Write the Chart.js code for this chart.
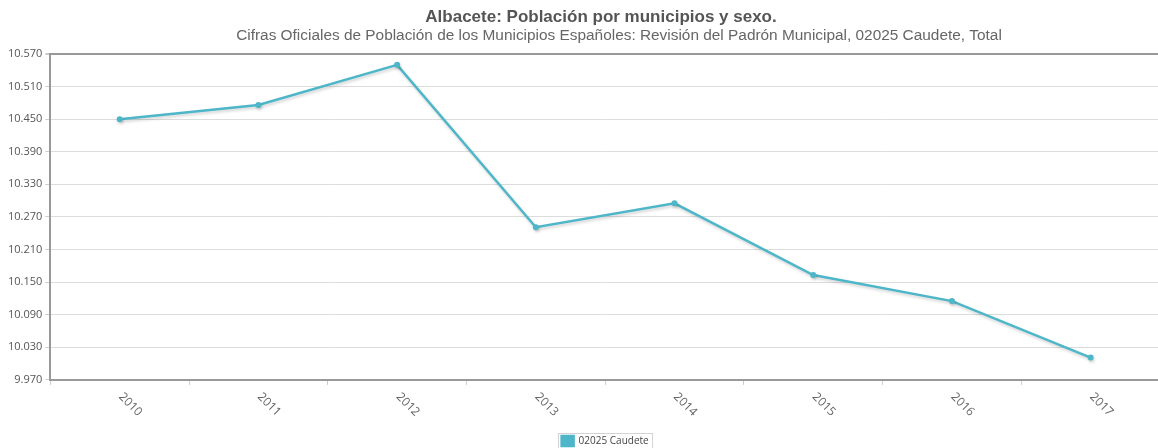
<!DOCTYPE html>
<html>
<head>
<meta charset="utf-8">
<script src="https://cdn.jsdelivr.net/npm/chart.js@4/dist/chart.umd.min.js"></script>
<style>
html,body{margin:0;padding:0;background:#fff;overflow:hidden;}
#wrap{width:1164px;height:448px;}
</style>
</head>
<body>
<div id="wrap"><canvas id="c" width="1164" height="448"></canvas></div>
<script>
const titleText = 'Albacete: Población por municipios y sexo.';
const subtitleText = 'Cifras Oficiales de Población de los Municipios Españoles: Revisión del Padrón Municipal, 02025 Caudete, Total';
const categories = ['2010', '2011', '2012', '2013', '2014', '2015', '2016', '2017'];
const seriesName = '02025 Caudete';
const values = [10450, 10476, 10550, 10251, 10295, 10163, 10115, 10011];
const yMin = 9970;
const yMax = 10570;
const yStep = 60;

const lineColor = '#4db6c8';
const fmt = v => String(Math.round(v)).replace(/\B(?=(\d{3})+(?!\d))/g, '.');

const customPlugin = {
  id: 'custom',
  beforeDatasetDraw(chart) {
    const ctx = chart.ctx;
    ctx.save();
    ctx.shadowColor = 'rgba(0,0,0,0.18)';
    ctx.shadowBlur = 3;
    ctx.shadowOffsetX = 1;
    ctx.shadowOffsetY = 2;
  },
  afterDatasetDraw(chart) {
    chart.ctx.restore();
  },
  afterDraw(chart) {
    const ctx = chart.ctx;
    const area = chart.chartArea;
    ctx.save();
    // titles
    ctx.textAlign = 'center';
    ctx.textBaseline = 'middle';
    ctx.fillStyle = '#555';
    ctx.font = 'bold 17px "Liberation Sans", Arial, sans-serif';
    ctx.fillText(titleText, 601, 17);
    ctx.fillStyle = '#666';
    ctx.font = '15.4px "Liberation Sans", Arial, sans-serif';
    ctx.fillText(subtitleText, 619, 36);
    // x labels rotated clockwise
    const xs = chart.scales.x;
    ctx.font = '12px "Open Sans", sans-serif';
    ctx.fillStyle = '#666';
    ctx.textAlign = 'left';
    ctx.textBaseline = 'middle';
    categories.forEach((c, i) => {
      const x = xs.getPixelForTick(i);
      ctx.save();
      ctx.translate(x + 1, area.bottom + 15);
      ctx.rotate(Math.PI / 4);
      ctx.fillText(c, 0, 0);
      ctx.restore();
    });
    // legend border
    const lg = chart.legend;
    if (lg && lg.legendHitBoxes && lg.legendHitBoxes.length) {
      const hb = lg.legendHitBoxes[0];
      ctx.strokeStyle = '#d4d4d4';
      ctx.lineWidth = 1;
      ctx.strokeRect(Math.round(hb.left) - 3.5, Math.round(hb.top) - 2.5, hb.width + 7, hb.height + 6);
    }
    ctx.restore();
  }
};

new Chart(document.getElementById('c'), {
  type: 'line',
  data: {
    labels: categories,
    datasets: [{
      label: seriesName,
      data: values,
      borderColor: lineColor,
      backgroundColor: lineColor,
      borderWidth: 2.5,
      pointRadius: 3,
      pointBackgroundColor: lineColor,
      pointBorderColor: lineColor,
      pointBorderWidth: 0,
      tension: 0
    }]
  },
  options: {
    responsive: false,
    animation: false,
    layout: { padding: { top: 54, left: 5, right: 0, bottom: -8 } },
    plugins: {
      title: { display: false },
      tooltip: { enabled: false },
      legend: {
        position: 'bottom',
        fullSize: false,
        labels: {
          boxWidth: 12,
          boxHeight: 10,
          padding: 4,
          color: '#444',
          font: { family: '"Open Sans", sans-serif', size: 10 }
        }
      }
    },
    scales: {
      x: {
        offset: true,
        grid: {
          offset: true,
          drawOnChartArea: false,
          drawTicks: true,
          tickLength: 5,
          color: '#ccc'
        },
        border: { display: true, color: '#999', width: 2 },
        ticks: {
          color: 'rgba(0,0,0,0)',
          minRotation: 45,
          maxRotation: 45,
          padding: 10,
          font: { family: '"Open Sans", sans-serif', size: 11 }
        }
      },
      y: {
        min: yMin,
        max: yMax,
        grid: {
          color: c => (c.tick && c.tick.value === yMax ? '#999' : '#dcdcdc'),
          lineWidth: c => (c.tick && c.tick.value === yMax ? 2 : 1),
          tickLength: 5,
          tickColor: '#ccc'
        },
        border: { display: true, color: '#999', width: 2 },
        ticks: {
          stepSize: yStep,
          padding: 3,
          color: '#555',
          font: { family: '"Open Sans", sans-serif', size: 11 },
          callback: v => fmt(v)
        }
      }
    }
  },
  plugins: [customPlugin]
});
</script>
</body>
</html>
